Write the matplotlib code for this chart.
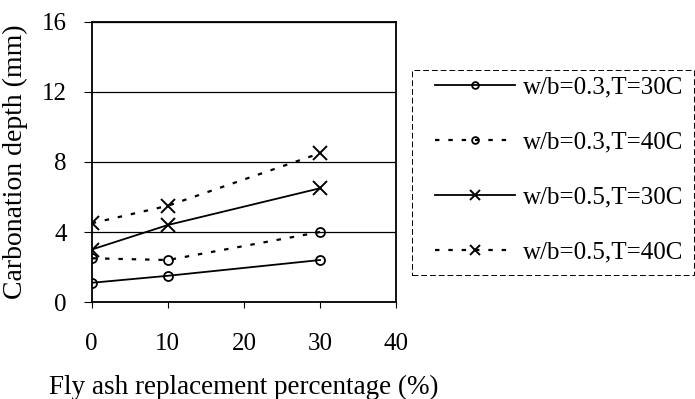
import matplotlib.pyplot as plt
from matplotlib.patches import Rectangle

plt.rcParams.update({
    "font.family": "Liberation Serif",
    "font.size": 18,
})

fly_ash = [0, 10, 30]
w03_t30 = [1.1, 1.5, 2.4]
w03_t40 = [2.5, 2.4, 4.0]
w05_t30 = [3.0, 4.4, 6.5]
w05_t40 = [4.5, 5.5, 8.5]
labels = ["w/b=0.3,T=30C", "w/b=0.3,T=40C", "w/b=0.5,T=30C", "w/b=0.5,T=40C"]

fig = plt.figure(figsize=(6.95, 3.99), dpi=100)
ax = fig.add_axes([0.132, 0.243, 0.438, 0.702])

dots = (0, (2, 4))
ax.plot(fly_ash, w03_t30, "k-", marker="o", mfc="none", ms=6.5, mew=1.3, lw=1.3, label=labels[0])
ax.plot(fly_ash, w03_t40, "k", ls=dots, marker="o", mfc="none", ms=6.5, mew=1.3, lw=1.6, label=labels[1])
ax.plot(fly_ash, w05_t30, "k-", marker="x", ms=10, mew=1.4, lw=1.3, label=labels[2])
ax.plot(fly_ash, w05_t40, "k", ls=dots, marker="x", ms=10, mew=1.4, lw=1.6, label=labels[3])

ax.set_xlim(0, 40)
ax.set_ylim(0, 16)
ax.set_xticks([0, 10, 20, 30, 40])
ax.set_yticks([0, 4, 8, 12, 16])
ax.yaxis.grid(True, color="black", lw=0.9)
ax.set_axisbelow(True)
ax.tick_params(axis="y", direction="out", length=6, width=0.8, pad=12)
ax.tick_params(axis="x", direction="out", length=4, width=0.8, pad=18)
for s in ax.spines.values():
    s.set_linewidth(1.3)

ax.set_ylabel("Carbonation depth (mm)", fontsize=20, labelpad=10)
fig.text(0.351, 0.028, "Fly ash replacement percentage (%)", fontsize=19.5,
         ha="center", va="center")

# dashed legend box drawn in figure coords
fig.patches.append(Rectangle((0.593, 0.311), 0.405, 0.514, transform=fig.transFigure,
                             fill=False, ec="black", lw=0.7, ls=(0, (6, 3))))
leg = fig.legend(loc="upper left", bbox_to_anchor=(0.626, 0.810), fontsize=18,
                 handlelength=3.2, handletextpad=0.3, labelspacing=1.3,
                 borderpad=0, frameon=False, borderaxespad=0)
for h in leg.legend_handles:
    h.set_markersize(h.get_markersize() * 0.75)

fig.savefig("out.png", dpi=100)
